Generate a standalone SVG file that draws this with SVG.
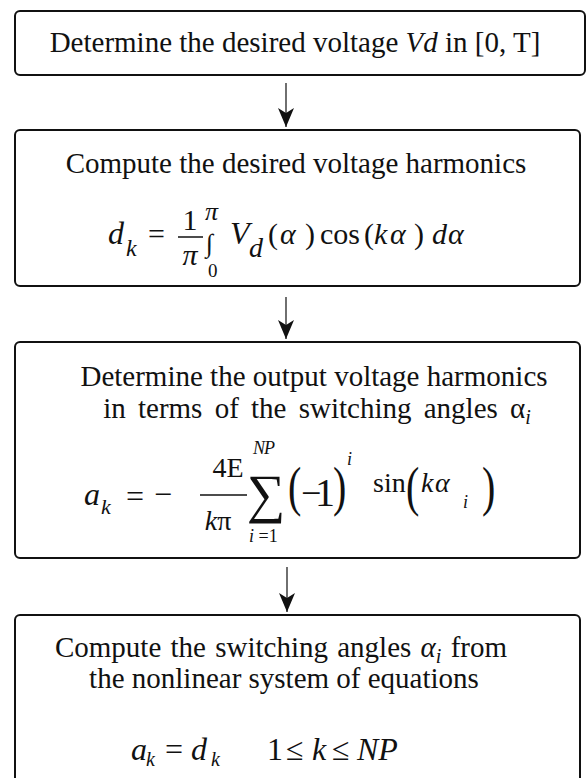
<svg xmlns="http://www.w3.org/2000/svg" width="586" height="778" viewBox="0 0 586 778">
<style>
.box{fill:#fff;stroke:#111;stroke-width:2}
.t{font-family:"Liberation Serif","Times New Roman",serif;font-size:29px;fill:#111}
.m{font-family:"Liberation Serif","Times New Roman",serif;fill:#111}
.it{font-style:italic}
.conn{stroke:#222;stroke-width:1.3;fill:none}
.bar{stroke:#111;stroke-width:1.5}
</style>
<defs>
<marker id="ah" markerUnits="userSpaceOnUse" markerWidth="20" markerHeight="18" refX="19" refY="8" orient="auto" viewBox="0 0 20 16">
<path d="M0,0 L19,8 L0,16 L5,8 Z" fill="#111"/>
</marker>
</defs>
<rect width="586" height="778" fill="#fff"/>
<g id="connectors">
<line class="conn" x1="286" y1="83" x2="286" y2="127" marker-end="url(#ah)"/>
<line class="conn" x1="286" y1="297" x2="286" y2="339" marker-end="url(#ah)"/>
<line class="conn" x1="287" y1="567" x2="287" y2="612" marker-end="url(#ah)"/>
</g>
<g id="n1">
<rect class="box" x="15" y="11" width="570" height="64" rx="5"/>
<text class="t" x="295" y="52" text-anchor="middle">Determine the desired voltage <tspan class="it">Vd</tspan> in [0, T]</text>
</g>
<g id="n2">
<rect class="box" x="15" y="130" width="565" height="156" rx="5"/>
<text class="t" x="296" y="173" text-anchor="middle">Compute the desired voltage harmonics</text>
<text class="m it" x="108" y="244" font-size="32">d</text>
<text class="m it" x="126" y="256" font-size="24">k</text>
<text class="m" x="148" y="244" font-size="30">=</text>
<text class="m" x="190" y="230" font-size="30" text-anchor="middle">1</text>
<line class="bar" x1="178" y1="237" x2="203" y2="237"/>
<text class="m it" x="190" y="265" font-size="30" text-anchor="middle">π</text>
<text class="m" x="206" y="252" font-size="26">∫</text>
<text class="m it" x="205" y="220" font-size="26">π</text>
<text class="m" x="208" y="277" font-size="19">0</text>
<text class="m it" x="230" y="244" font-size="32">V</text>
<text class="m it" x="249" y="257" font-size="28">d</text>
<text class="m" y="244" font-size="30"><tspan x="268">(</tspan><tspan class="it" x="280">α</tspan><tspan x="305">)</tspan><tspan x="320">cos</tspan><tspan x="364">(</tspan><tspan class="it" x="374">k</tspan><tspan class="it" x="390">α</tspan><tspan x="414">)</tspan><tspan class="it" x="432">d</tspan><tspan class="it" x="448">α</tspan></text>
</g>
<g id="n3">
<rect class="box" x="15" y="342" width="565" height="216" rx="5"/>
<text class="t" x="314" y="386" text-anchor="middle" font-size="28">Determine the output voltage harmonics</text>
<text class="t" x="317" y="418" text-anchor="middle" font-size="28" word-spacing="5">in terms of the switching angles α<tspan class="it" font-size="20" dy="6">i</tspan></text>
<text class="m it" x="84" y="505" font-size="32">a</text>
<text class="m it" x="101" y="514" font-size="22">k</text>
<text class="m" x="126" y="507" font-size="32">=</text>
<text class="m" x="154" y="505" font-size="32">−</text>
<text class="m" x="228" y="477" font-size="28" text-anchor="middle">4E</text>
<line class="bar" x1="200" y1="495" x2="247" y2="495"/>
<text class="m" x="218" y="530" font-size="28" text-anchor="middle"><tspan class="it">k</tspan>π</text>
<text class="m" x="247" y="512" font-size="54">∑</text>
<text class="m it" x="253" y="454" font-size="18" letter-spacing="-1">NP</text>
<text class="m" x="249" y="542" font-size="18"><tspan class="it">i</tspan> =1</text>
<text class="m" font-size="40" transform="translate(288,505) scale(1,1.35)">(</text>
<text class="m" x="301" y="505" font-size="36">−</text>
<text class="m" x="315" y="506" font-size="40">1</text>
<text class="m" font-size="40" transform="translate(333,505) scale(1,1.35)">)</text>
<text class="m it" x="347" y="465" font-size="18">i</text>
<text class="m" x="373" y="492" font-size="28">sin</text>
<text class="m" font-size="40" transform="translate(406,505) scale(1,1.35)">(</text>
<text class="m it" x="421" y="492" font-size="28">k</text>
<text class="m it" x="435" y="492" font-size="28">α</text>
<text class="m it" x="463" y="508" font-size="18">i</text>
<text class="m" font-size="40" transform="translate(482,505) scale(1,1.35)">)</text>
</g>
<g id="n4">
<rect class="box" x="15" y="615" width="565" height="180" rx="5"/>
<text class="t" x="281" y="657" text-anchor="middle" word-spacing="2">Compute the switching angles <tspan class="it">α</tspan><tspan class="it" font-size="20" dy="6">i</tspan><tspan dy="-6"> from</tspan></text>
<text class="t" x="284" y="688" text-anchor="middle">the nonlinear system of equations</text>
<text class="m it" x="131" y="760" font-size="32">a</text>
<text class="m it" x="146" y="766" font-size="20">k</text>
<text class="m" x="165" y="760" font-size="32">=</text>
<text class="m it" x="191" y="760" font-size="32">d</text>
<text class="m it" x="211" y="766" font-size="20">k</text>
<text class="m" x="267" y="760" font-size="32">1</text>
<text class="m" x="286" y="760" font-size="32">≤</text>
<text class="m it" x="312" y="760" font-size="32">k</text>
<text class="m" x="332" y="760" font-size="32">≤</text>
<text class="m it" x="357" y="760" font-size="32">NP</text>
</g>
</svg>
